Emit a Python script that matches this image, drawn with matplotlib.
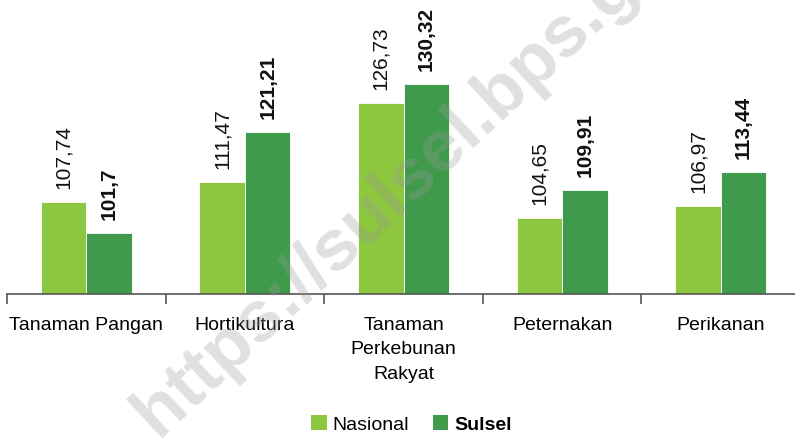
import matplotlib
matplotlib.use("Agg")
import matplotlib.pyplot as plt
import numpy as np
from matplotlib.patches import Patch

categories = ["Tanaman Pangan", "Hortikultura", "Tanaman\nPerkebunan\nRakyat", "Peternakan", "Perikanan"]
nasional = [107.74, 111.47, 126.73, 104.65, 106.97]
sulsel = [101.70, 121.21, 130.32, 109.91, 113.44]
nasional_lbl = ["107,74", "111,47", "126,73", "104,65", "106,97"]
sulsel_lbl = ["101,7", "121,21", "130,32", "109,91", "113,44"]

FONT = ["Liberation Sans Narrow", "Liberation Sans", "DejaVu Sans"]
plt.rcParams['font.family'] = FONT

C_NAS = "#8DC63F"
C_SUL = "#3F9B4B"

W, H = 795, 439
fig = plt.figure(figsize=(W/100, H/100), dpi=100)
base_px = 295
left_px = 7
right_px = 800
ax = fig.add_axes([left_px/W, (H-base_px)/H, (right_px-left_px)/W, base_px/H])
scale = 5.206
ax.set_ylim(90, 90 + base_px/scale)
ax.set_xlim(-0.5, 4.5)

x = np.arange(len(categories))
bw = 0.287
ax.bar(x - bw/2, nasional, bw, color=C_NAS, edgecolor="white", linewidth=0.6, zorder=2)
ax.bar(x + bw/2, sulsel, bw, color=C_SUL, edgecolor="white", linewidth=0.6, zorder=2)

for i in range(len(x)):
    ax.annotate(nasional_lbl[i], (x[i]-bw/2, nasional[i]), xytext=(0, 10), textcoords="offset points",
                rotation=90, ha="center", va="bottom", fontsize=15, color="#111111")
    ax.annotate(sulsel_lbl[i], (x[i]+bw/2, sulsel[i]), xytext=(0, 10), textcoords="offset points",
                rotation=90, ha="center", va="bottom", fontsize=15, fontweight="bold", color="#111111")

for s in ["top", "right", "left"]:
    ax.spines[s].set_visible(False)
ax.spines["bottom"].set_color("#555555")
ax.spines["bottom"].set_linewidth(1.2)
ax.set_yticks([])
ax.set_xticks(np.arange(-0.5, 5, 1.0), minor=True)
ax.set_xticks(x)
ax.set_xticklabels(categories, fontsize=14, linespacing=1.55)
ax.tick_params(axis="x", which="major", length=0, pad=16)
ax.tick_params(axis="x", which="minor", length=7, width=1.2, color="#555555", direction="out")

handles = [Patch(facecolor=C_NAS), Patch(facecolor=C_SUL)]
leg = fig.legend(handles, ["Nasional", "Sulsel"], loc="center", bbox_to_anchor=(0.5 + 14/W, 1 - 425/H),
                 ncol=2, frameon=False, fontsize=14, handlelength=0.8, handleheight=0.8,
                 handletextpad=0.3, columnspacing=1.2)
leg.get_texts()[1].set_fontweight("bold")

fig.text(158/W, 1 - 438/H, "https://sulsel.bps.go.id", rotation=43, rotation_mode="anchor",
         ha="left", va="baseline", fontsize=52, fontweight="bold", color="#999999", alpha=0.3,
         family=["Liberation Sans", "DejaVu Sans"], zorder=10)

fig.savefig("out.png", dpi=100)
